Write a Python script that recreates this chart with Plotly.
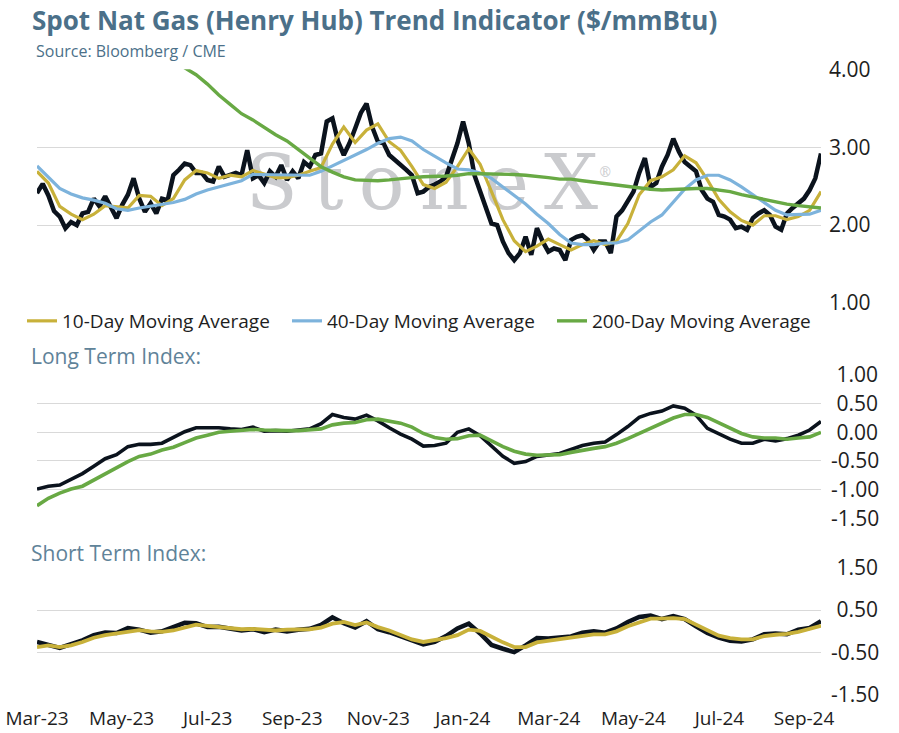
import pandas as pd
import plotly.graph_objects as go

# ---------------------------------------------------------------
# Data
# ---------------------------------------------------------------
START, END = "2023-03-14", "2024-09-20"

spot_dates = pd.date_range(START, END, periods=139)
spot = [2.41, 2.53, 2.38, 2.18, 2.11, 1.96, 2.04, 2.00, 2.15, 2.17,
        2.34, 2.24, 2.37, 2.24, 2.09, 2.26, 2.39, 2.60, 2.34, 2.17,
        2.28, 2.15, 2.34, 2.32, 2.64, 2.71, 2.79, 2.77, 2.67, 2.67,
        2.58, 2.56, 2.75, 2.62, 2.64, 2.67, 2.64, 2.96, 2.60, 2.64,
        2.54, 2.69, 2.62, 2.77, 2.58, 2.69, 2.60, 2.81, 2.75, 2.90,
        2.92, 3.33, 3.37, 3.07, 2.90, 3.05, 3.24, 3.44, 3.56, 3.26,
        3.07, 3.05, 2.90, 2.84, 2.77, 2.71, 2.64, 2.41, 2.43, 2.49,
        2.52, 2.56, 2.62, 2.84, 3.05, 3.33, 3.05, 2.64, 2.43, 2.19,
        2.02, 2.00, 1.79, 1.64, 1.55, 1.64, 1.85, 1.62, 1.96, 1.79,
        1.66, 1.70, 1.68, 1.55, 1.81, 1.85, 1.87, 1.81, 1.68, 1.79,
        1.79, 1.64, 2.11, 2.19, 2.30, 2.43, 2.67, 2.86, 2.49, 2.54,
        2.75, 2.90, 3.11, 2.94, 2.81, 2.75, 2.69, 2.45, 2.34, 2.30,
        2.13, 2.11, 2.07, 1.96, 1.98, 1.94, 2.09, 2.15, 2.19, 2.13,
        1.98, 1.94, 2.15, 2.22, 2.28, 2.34, 2.45, 2.60, 2.92]

ma_dates = pd.date_range(START, END, periods=70)
ma10 = [2.69, 2.54, 2.24, 2.14, 2.07, 2.14, 2.25, 2.23, 2.22, 2.38,
        2.37, 2.25, 2.34, 2.58, 2.70, 2.67, 2.60, 2.64, 2.62, 2.70,
        2.66, 2.61, 2.61, 2.64, 2.69, 2.74, 3.04, 3.26, 3.06, 3.22,
        3.30, 3.07, 2.96, 2.75, 2.52, 2.47, 2.55, 2.75, 2.98, 2.78,
        2.43, 2.07, 1.80, 1.66, 1.73, 1.82, 1.75, 1.68, 1.75, 1.80,
        1.75, 1.79, 2.02, 2.39, 2.57, 2.62, 2.71, 2.89, 2.80, 2.58,
        2.33, 2.17, 2.06, 2.00, 2.12, 2.12, 2.07, 2.11, 2.19, 2.43]
ma40 = [2.76, 2.61, 2.47, 2.40, 2.35, 2.32, 2.28, 2.21, 2.19, 2.22,
        2.24, 2.27, 2.29, 2.33, 2.40, 2.45, 2.49, 2.53, 2.57, 2.65,
        2.65, 2.64, 2.64, 2.64, 2.64, 2.69, 2.76, 2.83, 2.89, 2.97,
        3.05, 3.11, 3.13, 3.08, 2.97, 2.88, 2.80, 2.72, 2.71, 2.67,
        2.60, 2.49, 2.38, 2.27, 2.14, 2.02, 1.88, 1.77, 1.75, 1.75,
        1.77, 1.77, 1.81, 1.92, 2.04, 2.13, 2.30, 2.46, 2.58, 2.64,
        2.64, 2.58, 2.49, 2.39, 2.28, 2.19, 2.13, 2.13, 2.14, 2.19]
ma200 = [5.35, 5.25, 5.15, 5.02, 4.90, 4.80, 4.70, 4.60, 4.50, 4.40,
         4.30, 4.20, 4.11, 4.02, 3.93, 3.81, 3.67, 3.55, 3.43, 3.35,
         3.25, 3.16, 3.08, 2.97, 2.85, 2.75, 2.68, 2.62, 2.58, 2.57,
         2.57, 2.58, 2.60, 2.61, 2.62, 2.62, 2.63, 2.64, 2.66, 2.66,
         2.66, 2.66, 2.65, 2.64, 2.63, 2.61, 2.59, 2.59, 2.57, 2.55,
         2.53, 2.52, 2.50, 2.48, 2.46, 2.45, 2.46, 2.46, 2.47, 2.47,
         2.45, 2.43, 2.39, 2.36, 2.32, 2.29, 2.27, 2.25, 2.23, 2.22]

long_term = [-0.99, -0.94, -0.92, -0.82, -0.72, -0.59, -0.46, -0.39, -0.25, -0.21,
             -0.21, -0.19, -0.09, 0.01, 0.08, 0.08, 0.08, 0.06, 0.05, 0.09,
             0.02, 0.03, 0.02, 0.04, 0.06, 0.15, 0.31, 0.26, 0.23, 0.30,
             0.20, 0.08, -0.03, -0.12, -0.24, -0.23, -0.19, 0.00, 0.06, -0.06,
             -0.25, -0.42, -0.54, -0.51, -0.42, -0.39, -0.37, -0.30, -0.23, -0.19,
             -0.17, -0.04, 0.10, 0.26, 0.33, 0.37, 0.46, 0.42, 0.30, 0.07,
             -0.03, -0.12, -0.19, -0.19, -0.12, -0.15, -0.11, -0.05, 0.04, 0.19]
long_term_avg = [-1.28, -1.15, -1.06, -0.99, -0.94, -0.83, -0.72, -0.61, -0.51, -0.42,
                 -0.38, -0.31, -0.26, -0.18, -0.10, -0.05, 0.00, 0.02, 0.03, 0.05,
                 0.04, 0.03, 0.03, 0.03, 0.04, 0.06, 0.13, 0.16, 0.17, 0.22,
                 0.23, 0.20, 0.16, 0.09, -0.02, -0.09, -0.12, -0.11, -0.06, -0.05,
                 -0.15, -0.25, -0.33, -0.38, -0.40, -0.40, -0.39, -0.35, -0.31, -0.28,
                 -0.25, -0.19, -0.11, -0.02, 0.07, 0.15, 0.25, 0.31, 0.31, 0.26,
                 0.17, 0.08, -0.02, -0.08, -0.10, -0.10, -0.12, -0.10, -0.08, 0.00]

short_term = [-0.25, -0.31, -0.39, -0.30, -0.21, -0.09, -0.03, -0.04, 0.08, 0.04,
              -0.03, 0.00, 0.11, 0.20, 0.19, 0.10, 0.11, 0.07, 0.02, 0.05,
              -0.02, 0.04, 0.00, 0.04, 0.06, 0.15, 0.33, 0.19, 0.09, 0.24,
              0.05, -0.02, -0.12, -0.21, -0.31, -0.25, -0.11, 0.07, 0.18, -0.05,
              -0.32, -0.41, -0.49, -0.33, -0.16, -0.17, -0.15, -0.12, -0.03, 0.00,
              -0.03, 0.07, 0.22, 0.34, 0.37, 0.29, 0.36, 0.29, 0.12, -0.04,
              -0.15, -0.22, -0.24, -0.19, -0.07, -0.05, -0.07, 0.04, 0.08, 0.24]
short_term_avg = [-0.37, -0.33, -0.37, -0.33, -0.25, -0.15, -0.09, -0.05, 0.00, 0.03,
                  0.00, -0.01, 0.02, 0.10, 0.16, 0.13, 0.10, 0.08, 0.05, 0.06,
                  0.04, 0.02, 0.04, 0.04, 0.05, 0.09, 0.18, 0.22, 0.15, 0.21,
                  0.10, 0.02, -0.08, -0.19, -0.25, -0.21, -0.16, -0.09, 0.04, 0.01,
                  -0.13, -0.26, -0.37, -0.37, -0.26, -0.22, -0.19, -0.15, -0.10, -0.07,
                  -0.07, 0.00, 0.12, 0.21, 0.30, 0.30, 0.31, 0.29, 0.16, 0.02,
                  -0.10, -0.16, -0.19, -0.19, -0.11, -0.08, -0.06, -0.01, 0.05, 0.13]

# date axis labels as they sit on the reference (one every ~2 months)
label_dates = ["2023-03-14", "2023-05-13", "2023-07-13", "2023-09-11", "2023-11-11",
               "2024-01-10", "2024-03-11", "2024-05-10", "2024-07-10", "2024-09-08"]

top_ticks = [1, 2, 3, 4]
mid_ticks = [-1.5, -1.0, -0.5, 0.0, 0.5, 1.0]
low_ticks = [-1.5, -0.5, 0.5, 1.5]

# ---------------------------------------------------------------
# Styling
# ---------------------------------------------------------------
W, H = 899, 733
FONT = "Open Sans"
BLACK = "#0b131d"
GOLD = "#c8b13a"
BLUE = "#7db3dc"
GREEN = "#68a944"
GRID = "#d9d9d9"
TXT = "#1e1e1e"
SLATE = "#4b7089"
LABEL = "#5f8399"

x_dom = [37 / W, 821 / W]


def label(v):
    s = f"{v:.2f}"
    return s if v < 0 else "\u2008" + s


fig = go.Figure()

# watermark, drawn first so the lines sit on top of it
fig.add_trace(go.Scatter(
    x=[spot_dates[len(spot_dates) // 2]], y=[2.45], mode="text",
    text=["S\u2009t\u2009o\u2009n\u2009e\u2009X<sup><span style='font-size:14px'>®</span></sup>"],
    textfont=dict(family="DejaVu Serif", size=76, color="#cacbce"),
    hoverinfo="skip", showlegend=False))

fig.add_trace(go.Scatter(x=spot_dates, y=spot, mode="lines", name="Spot",
                         line=dict(color=BLACK, width=4.5), showlegend=False))
fig.add_trace(go.Scatter(x=ma_dates, y=ma10, mode="lines", name="10-Day Moving Average",
                         line=dict(color=GOLD, width=3.2)))
fig.add_trace(go.Scatter(x=ma_dates, y=ma40, mode="lines", name="40-Day Moving Average",
                         line=dict(color=BLUE, width=3.2)))
fig.add_trace(go.Scatter(x=ma_dates, y=ma200, mode="lines", name="200-Day Moving Average",
                         line=dict(color=GREEN, width=3.4)))

fig.add_trace(go.Scatter(x=ma_dates, y=long_term, mode="lines", xaxis="x2", yaxis="y2",
                         line=dict(color=BLACK, width=3.6), showlegend=False))
fig.add_trace(go.Scatter(x=ma_dates, y=long_term_avg, mode="lines", xaxis="x2", yaxis="y2",
                         line=dict(color=GREEN, width=3.6), showlegend=False))

fig.add_trace(go.Scatter(x=ma_dates, y=short_term, mode="lines", xaxis="x3", yaxis="y3",
                         line=dict(color=BLACK, width=4.5), showlegend=False))
fig.add_trace(go.Scatter(x=ma_dates, y=short_term_avg, mode="lines", xaxis="x3", yaxis="y3",
                         line=dict(color=GOLD, width=3.8), showlegend=False))

hidden_x = dict(domain=x_dom, range=[START, END], type="date", showgrid=False,
                showticklabels=False, zeroline=False, showline=False,
                ticks="", automargin=False)
y_common = dict(side="right", showgrid=True, gridcolor=GRID, gridwidth=1,
                zeroline=False, showline=False, ticks="", automargin=False,
                tickfont=dict(family=FONT, size=21, color=TXT))

fig.update_layout(
    template="none",
    width=W, height=H,
    margin=dict(l=0, r=0, t=0, b=0),
    paper_bgcolor="white", plot_bgcolor="rgba(0,0,0,0)",
    font=dict(family=FONT, color=TXT),
    xaxis=dict(hidden_x, anchor="y"),
    xaxis2=dict(hidden_x, anchor="y2"),
    xaxis3=dict(hidden_x, anchor="y3", showticklabels=True, tickmode="array",
                tickvals=label_dates, tickformat="%b-%y", ticklabelstandoff=10,
                ticklabeloverflow="allow",
                tickfont=dict(family=FONT, size=19, color=TXT)),
    yaxis=dict(y_common, domain=[1 - 303 / H, 1 - 69.3 / H], range=[1, 4],
               anchor="x", tickvals=top_ticks,
               ticktext=[f"{v:.2f}" for v in top_ticks], ticklabelstandoff=7),
    yaxis2=dict(y_common, domain=[1 - 518.3 / H, 1 - 375 / H], range=[-1.5, 1],
                anchor="x2", tickvals=mid_ticks,
                ticktext=[label(v) for v in mid_ticks], ticklabelstandoff=9),
    yaxis3=dict(y_common, domain=[1 - 695 / H, 1 - 567.7 / H], range=[-1.5, 1.5],
                anchor="x3", tickvals=low_ticks,
                ticktext=[label(v) for v in low_ticks], ticklabelstandoff=9),
    legend=dict(orientation="h", x=22 / W, xanchor="left", y=1 - 321 / H,
                yanchor="middle", font=dict(family=FONT, size=19, color=TXT),
                bgcolor="rgba(0,0,0,0)", itemwidth=30, entrywidth=220),
    showlegend=True,
)

notes = [
    ("<b>Spot Nat Gas (Henry Hub) Trend Indicator ($/mmBtu)</b>", 30, 20, 26, SLATE),
    ("Source: Bloomberg / CME", 34, 51, 16, SLATE),
    ("Long Term Index:", 29, 356, 21, LABEL),
    ("Short Term Index:", 29, 553, 21, LABEL),
]
for txt, px, py, size, col in notes:
    fig.add_annotation(text=txt, xref="paper", yref="paper", x=px / W, y=1 - py / H,
                       xanchor="left", yanchor="middle", showarrow=False,
                       font=dict(family=FONT, size=size, color=col))

# the page should start at the very top-left corner
fig.write_html("out.html", config={"displayModeBar": False},
               post_script="document.body.style.margin='0px';")
